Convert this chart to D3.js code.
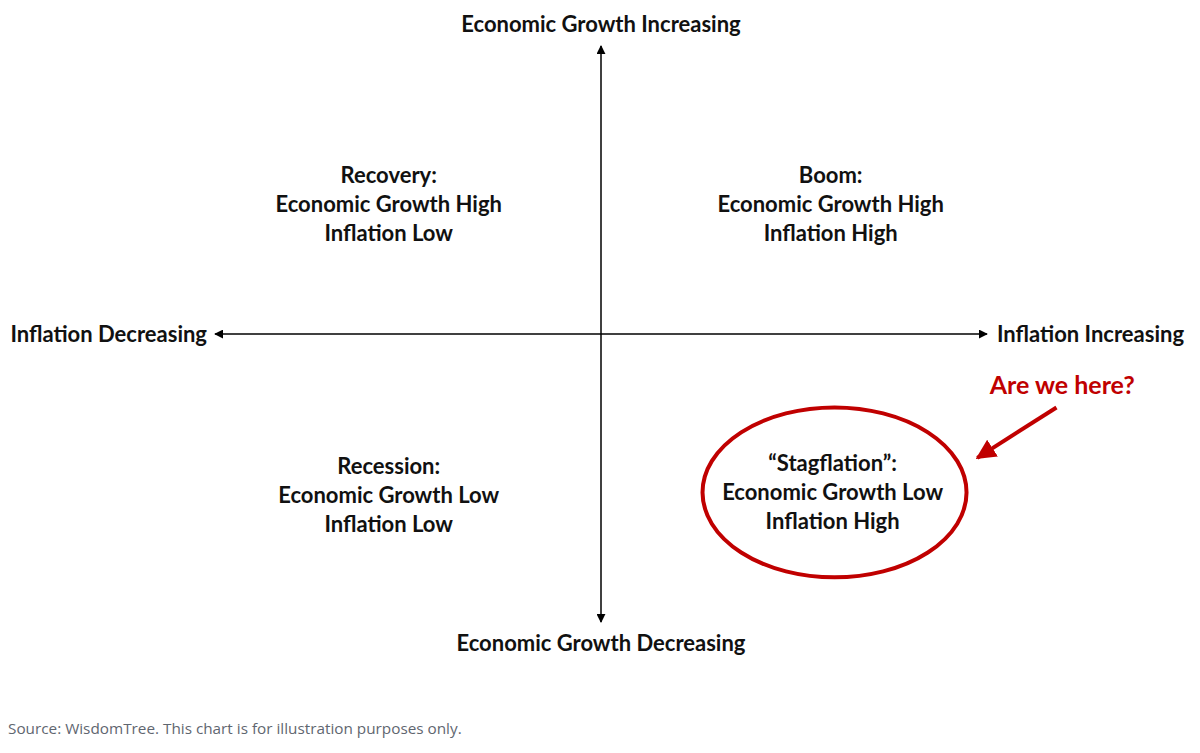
<!DOCTYPE html>
<html>
<head>
<meta charset="utf-8">
<script src="https://cdn.jsdelivr.net/npm/d3@7"></script>
<style>
	body { margin: 0; background: #fff; }
	text { font-family: Lato, "Open Sans", sans-serif; }
</style>
</head>
<body>
<svg id="chart" width="1200" height="753"></svg>
<script>
// axis end labels
var axisLabels = ['Economic Growth Increasing', 'Economic Growth Decreasing', 'Inflation Decreasing', 'Inflation Increasing'];

// quadrants: inflation (x), growth (y), text lines
var quadX = [-0.55, 0.595, -0.55, 0.6];
var quadY = [0.45, 0.45, -0.56, -0.55];
var quadLines = [
	['Recovery:', 'Economic Growth High', 'Inflation Low'],
	['Boom:', 'Economic Growth High', 'Inflation High'],
	['Recession:', 'Economic Growth Low', 'Inflation Low'],
	['\u201CStagflation\u201D:', 'Economic Growth Low', 'Inflation High']
];

// highlight on stagflation quadrant
var callout = 'Are we here?';
var calloutAt = [1.195, -0.177];
var pointerFrom = [1.18, -0.255], pointerTo = [0.975, -0.43];
var ringCenter = [0.605, -0.55], ringRadius = [0.342, 0.295];

var source = 'Source: WisdomTree. This chart is for illustration purposes only.';

var svg = d3.select('#chart'),
	red = '#c00000',
	x = d3.scaleLinear().domain([-1, 1]).range([215, 987]),
	y = d3.scaleLinear().domain([-1, 1]).range([622, 46]);

var defs = svg.append('defs');
function marker(id, color, size) {
	defs.append('marker').attr('id', id)
		.attr('viewBox', '0 0 10 10').attr('refX', 9).attr('refY', 5)
		.attr('markerWidth', size).attr('markerHeight', size).attr('markerUnits', 'userSpaceOnUse')
		.attr('orient', 'auto-start-reverse')
		.append('path').attr('d', 'M0,0 L10,5 L0,10 z').attr('fill', color);
}
marker('arr', '#000', 9);
marker('arrRed', red, 20);

// the two axes
svg.append('line')
	.attr('x1', x(0)).attr('x2', x(0)).attr('y1', y(-1)).attr('y2', y(1))
	.attr('stroke', '#000').attr('stroke-width', 1.5)
	.attr('marker-start', 'url(#arr)').attr('marker-end', 'url(#arr)');
svg.append('line')
	.attr('x1', x(-1)).attr('x2', x(1)).attr('y1', y(0)).attr('y2', y(0))
	.attr('stroke', '#000').attr('stroke-width', 1.5)
	.attr('marker-start', 'url(#arr)').attr('marker-end', 'url(#arr)');

var bold = {'font-size': '22px', 'font-weight': 700, fill: '#111'};
function style(sel, s) { for (var k in s) sel.style(k, s[k]); return sel; }

style(svg.append('text').attr('x', x(0)).attr('y', y(1) - 14).attr('text-anchor', 'middle').text(axisLabels[0]), bold);
style(svg.append('text').attr('x', x(0)).attr('y', y(-1) + 29).attr('text-anchor', 'middle').text(axisLabels[1]), bold);
style(svg.append('text').attr('x', x(-1) - 8).attr('y', y(0)).attr('dy', '0.35em').attr('text-anchor', 'end').text(axisLabels[2]), bold);
style(svg.append('text').attr('x', x(1) + 10).attr('y', y(0)).attr('dy', '0.35em').attr('text-anchor', 'start').text(axisLabels[3]), bold);

// quadrant labels
var q = svg.selectAll('g.quad').data(quadLines).enter().append('g').attr('class', 'quad')
	.attr('transform', function (d, i) { return 'translate(' + x(quadX[i]) + ',' + y(quadY[i]) + ')'; });
style(q.selectAll('text').data(function (d) { return d; }).enter().append('text')
	.attr('text-anchor', 'middle')
	.attr('y', function (d, i) { return (i - 1) * 29; })
	.attr('dy', '0.35em')
	.text(function (d) { return d; }), bold);

// red ring + pointer
svg.append('ellipse')
	.attr('cx', x(ringCenter[0])).attr('cy', y(ringCenter[1]))
	.attr('rx', x(ringRadius[0]) - x(0)).attr('ry', y(0) - y(ringRadius[1]))
	.attr('fill', 'none').attr('stroke', red).attr('stroke-width', 4);
svg.append('line')
	.attr('x1', x(pointerFrom[0])).attr('y1', y(pointerFrom[1]))
	.attr('x2', x(pointerTo[0])).attr('y2', y(pointerTo[1]))
	.attr('stroke', red).attr('stroke-width', 4)
	.attr('marker-end', 'url(#arrRed)');
style(svg.append('text').attr('x', x(calloutAt[0])).attr('y', y(calloutAt[1])).attr('dy', '0.35em')
	.attr('text-anchor', 'middle').text(callout), {'font-size': '25px', 'font-weight': 700, fill: red});

svg.append('text').attr('x', 8).attr('y', 734).text(source)
	.style('font-size', '15.3px').style('fill', '#5f6670').style('font-family', '"Open Sans", sans-serif');
</script>
</body>
</html>
